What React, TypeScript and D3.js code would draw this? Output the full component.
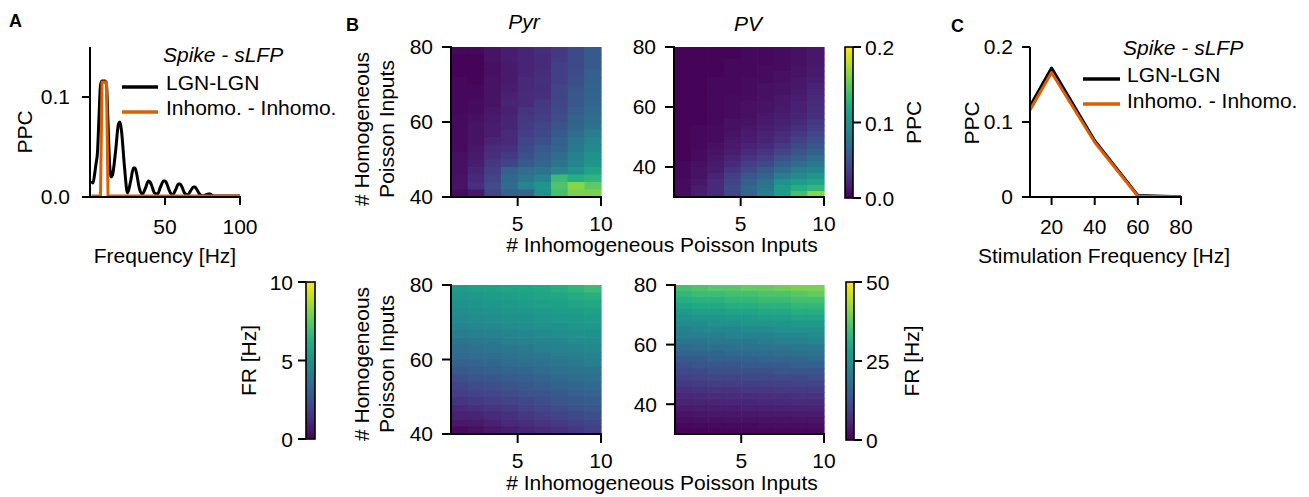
import React from "react";
import * as d3 from "d3";

const FONT = "'Liberation Sans', Arial, Helvetica, sans-serif";
const FS = 21;

// ---------- Panel A: PPC spectrum ----------
const freqA = [1, 2, 3, 4, 5, 6, 7, 8, 9, 10, 11, 12, 13, 14, 15, 17, 19, 20, 21, 23, 25, 27, 29, 30, 31, 33, 35, 37, 39, 40, 41, 43, 45, 47, 49, 50, 51, 53, 55, 57, 59, 60, 61, 63, 65, 67, 69, 70, 71, 73, 75, 77, 79, 80, 81, 83, 85, 90, 95, 100];
const ppcLgnA = [0.016, 0.014, 0.022, 0.033, 0.045, 0.08, 0.112, 0.116, 0.116, 0.116, 0.112, 0.075, 0.035, 0.02, 0.022, 0.045, 0.073, 0.075, 0.066, 0.03, 0.004, 0.015, 0.029, 0.029, 0.024, 0.008, 0.003, 0.009, 0.016, 0.015, 0.012, 0.004, 0.003, 0.01, 0.016, 0.016, 0.014, 0.006, 0.002, 0.007, 0.013, 0.013, 0.011, 0.004, 0.002, 0.006, 0.01, 0.01, 0.008, 0.003, 0.001, 0.002, 0.003, 0.003, 0.002, 0.001, 0.001, 0.001, 0.001, 0.001];
const freqInhomoA = [1, 7, 8, 11, 12, 100];
const ppcInhomoA = [0.001, 0.001, 0.115, 0.115, 0.001, 0.001];
const ticksAx = [50, 100];
const ticksAy = [0, 0.1];

// ---------- Panel C ----------
const stimFreq = [10, 20, 40, 60, 80];
const ppcLgnC = [0.121, 0.172, 0.075, 0.002, 0.0005];
const ppcInhomoC = [0.116, 0.166, 0.073, 0.001, 0.0005];
const ticksCx = [20, 40, 60, 80];
const ticksCy = [0, 0.1, 0.2];

// ---------- Panel B heatmaps ----------
const xEdges = [1, 2, 3, 4, 5, 6, 7, 8, 9, 10];
const yEdgesPyr = [40, 42, 44, 46, 48, 50, 52, 54, 56, 58, 60, 62, 64, 66, 68, 70, 72, 74, 76, 78, 80];
const yEdgesPV = [30, 32, 34, 36, 38, 40, 42, 44, 46, 48, 50, 52, 54, 56, 58, 60, 62, 64, 66, 68, 70, 72, 74, 76, 78, 80];

// PPC Pyr, rows top (y=80) -> bottom (y=40)
const ppcPyr = [
  [0.004, 0.004, 0.010, 0.016, 0.020, 0.026, 0.032, 0.044, 0.056],
  [0.002, 0.002, 0.010, 0.016, 0.020, 0.024, 0.034, 0.044, 0.056],
  [0.002, 0.002, 0.008, 0.014, 0.020, 0.024, 0.036, 0.044, 0.056],
  [0.002, 0.002, 0.008, 0.014, 0.020, 0.026, 0.036, 0.046, 0.060],
  [0.004, 0.002, 0.010, 0.014, 0.022, 0.028, 0.036, 0.048, 0.060],
  [0.004, 0.004, 0.010, 0.016, 0.022, 0.026, 0.040, 0.050, 0.062],
  [0.004, 0.004, 0.010, 0.018, 0.024, 0.028, 0.040, 0.054, 0.064],
  [0.004, 0.006, 0.010, 0.020, 0.024, 0.032, 0.042, 0.054, 0.066],
  [0.004, 0.006, 0.012, 0.018, 0.030, 0.034, 0.044, 0.058, 0.068],
  [0.006, 0.008, 0.014, 0.020, 0.032, 0.036, 0.046, 0.062, 0.070],
  [0.006, 0.010, 0.016, 0.020, 0.034, 0.040, 0.050, 0.064, 0.074],
  [0.006, 0.010, 0.016, 0.024, 0.036, 0.044, 0.056, 0.070, 0.084],
  [0.006, 0.010, 0.020, 0.024, 0.040, 0.048, 0.060, 0.076, 0.090],
  [0.006, 0.012, 0.024, 0.028, 0.044, 0.056, 0.064, 0.080, 0.094],
  [0.008, 0.014, 0.028, 0.034, 0.048, 0.060, 0.070, 0.086, 0.100],
  [0.008, 0.016, 0.032, 0.040, 0.056, 0.066, 0.076, 0.090, 0.104],
  [0.008, 0.020, 0.036, 0.060, 0.070, 0.076, 0.090, 0.100, 0.116],
  [0.010, 0.024, 0.040, 0.066, 0.080, 0.090, 0.136, 0.124, 0.130],
  [0.010, 0.028, 0.046, 0.068, 0.090, 0.104, 0.144, 0.164, 0.150],
  [0.006, 0.012, 0.040, 0.060, 0.064, 0.100, 0.140, 0.160, 0.160],
];

// PPC PV, rows top (y=80) -> bottom (y=30)
const ppcPV = [
  [0.002, 0.002, 0.002, 0.002, 0.004, 0.004, 0.006, 0.008, 0.012],
  [0.002, 0.002, 0.002, 0.002, 0.004, 0.004, 0.006, 0.008, 0.012],
  [0.002, 0.002, 0.002, 0.004, 0.004, 0.004, 0.006, 0.008, 0.012],
  [0.002, 0.002, 0.002, 0.004, 0.004, 0.006, 0.006, 0.010, 0.014],
  [0.002, 0.002, 0.002, 0.004, 0.004, 0.006, 0.008, 0.010, 0.014],
  [0.002, 0.002, 0.004, 0.004, 0.006, 0.006, 0.008, 0.012, 0.016],
  [0.002, 0.002, 0.004, 0.004, 0.006, 0.008, 0.010, 0.012, 0.018],
  [0.002, 0.002, 0.004, 0.004, 0.006, 0.008, 0.010, 0.014, 0.020],
  [0.002, 0.002, 0.004, 0.006, 0.006, 0.008, 0.012, 0.016, 0.022],
  [0.002, 0.002, 0.004, 0.006, 0.008, 0.010, 0.012, 0.018, 0.024],
  [0.002, 0.002, 0.004, 0.006, 0.008, 0.010, 0.014, 0.018, 0.026],
  [0.002, 0.002, 0.004, 0.006, 0.008, 0.012, 0.016, 0.020, 0.028],
  [0.002, 0.002, 0.004, 0.008, 0.010, 0.014, 0.018, 0.024, 0.032],
  [0.002, 0.004, 0.006, 0.008, 0.012, 0.016, 0.020, 0.028, 0.036],
  [0.002, 0.004, 0.006, 0.010, 0.014, 0.018, 0.024, 0.032, 0.042],
  [0.002, 0.004, 0.006, 0.012, 0.016, 0.020, 0.028, 0.038, 0.048],
  [0.002, 0.004, 0.008, 0.014, 0.020, 0.024, 0.034, 0.044, 0.054],
  [0.002, 0.006, 0.010, 0.016, 0.024, 0.030, 0.040, 0.050, 0.060],
  [0.002, 0.006, 0.012, 0.020, 0.030, 0.036, 0.050, 0.060, 0.070],
  [0.004, 0.008, 0.014, 0.024, 0.036, 0.044, 0.060, 0.070, 0.080],
  [0.004, 0.010, 0.016, 0.030, 0.044, 0.056, 0.070, 0.084, 0.090],
  [0.004, 0.010, 0.020, 0.036, 0.054, 0.064, 0.084, 0.096, 0.104],
  [0.006, 0.012, 0.024, 0.040, 0.060, 0.076, 0.100, 0.110, 0.116],
  [0.006, 0.016, 0.024, 0.044, 0.066, 0.080, 0.110, 0.124, 0.132],
  [0.006, 0.016, 0.024, 0.040, 0.064, 0.084, 0.110, 0.140, 0.164],
];

// FR Pyr [Hz], rows top (y=80) -> bottom (y=40)
const frPyr = [
  [5.5, 5.6, 5.7, 5.8, 5.9, 6.0, 6.2, 6.5, 6.8],
  [5.3, 5.4, 5.5, 5.6, 5.7, 5.8, 5.9, 6.1, 6.3],
  [5.1, 5.2, 5.3, 5.4, 5.5, 5.6, 5.7, 5.8, 6.0],
  [4.9, 5.0, 5.1, 5.2, 5.3, 5.4, 5.5, 5.6, 5.7],
  [4.7, 4.8, 4.9, 5.0, 5.1, 5.2, 5.3, 5.4, 5.5],
  [4.5, 4.6, 4.7, 4.8, 4.9, 5.0, 5.1, 5.2, 5.3],
  [4.2, 4.3, 4.4, 4.5, 4.6, 4.8, 4.9, 5.0, 5.1],
  [3.9, 4.0, 4.1, 4.3, 4.4, 4.5, 4.6, 4.8, 4.9],
  [3.6, 3.7, 3.9, 4.0, 4.1, 4.3, 4.4, 4.5, 4.7],
  [3.4, 3.5, 3.6, 3.7, 3.9, 4.0, 4.2, 4.3, 4.4],
  [3.1, 3.2, 3.3, 3.5, 3.6, 3.7, 3.9, 4.0, 4.2],
  [2.8, 2.9, 3.0, 3.2, 3.3, 3.5, 3.6, 3.8, 3.9],
  [2.4, 2.6, 2.7, 2.9, 3.0, 3.2, 3.4, 3.5, 3.7],
  [2.1, 2.3, 2.4, 2.6, 2.7, 2.9, 3.1, 3.3, 3.4],
  [1.8, 2.0, 2.1, 2.3, 2.5, 2.6, 2.8, 3.0, 3.2],
  [1.5, 1.7, 1.8, 2.0, 2.2, 2.4, 2.6, 2.8, 2.9],
  [1.2, 1.4, 1.5, 1.7, 1.9, 2.1, 2.3, 2.5, 2.7],
  [0.9, 1.0, 1.2, 1.4, 1.6, 1.8, 2.0, 2.2, 2.4],
  [0.6, 0.7, 0.9, 1.1, 1.3, 1.5, 1.7, 1.9, 2.1],
  [0.3, 0.4, 0.6, 0.8, 1.0, 1.2, 1.4, 1.6, 1.8],
];

// FR PV [Hz], rows top (y=80) -> bottom (y=30)
const frPV = [
  [35, 36, 37, 37, 38, 38, 39, 40, 40],
  [33, 34, 34, 35, 35, 36, 36, 37, 38],
  [31, 32, 32, 33, 33, 34, 34, 35, 35],
  [29, 30, 30, 31, 31, 32, 32, 33, 33],
  [27, 28, 28, 29, 29, 30, 30, 31, 31],
  [25, 26, 26, 27, 27, 28, 28, 29, 29],
  [24, 24, 25, 25, 26, 26, 26, 27, 27],
  [22, 23, 23, 23, 24, 24, 25, 25, 25],
  [21, 21, 21, 22, 22, 22, 23, 23, 24],
  [19, 19, 20, 20, 20, 21, 21, 21, 22],
  [17, 18, 18, 18, 19, 19, 19, 20, 20],
  [16, 16, 16, 17, 17, 17, 18, 18, 18],
  [14, 14, 15, 15, 15, 16, 16, 16, 17],
  [12, 13, 13, 13, 14, 14, 14, 15, 15],
  [11, 11, 12, 12, 12, 12, 13, 13, 13],
  [9.5, 10, 10, 10, 11, 11, 11, 11, 12],
  [8.3, 8.6, 8.8, 9.0, 9.3, 9.5, 9.7, 10, 10],
  [7.0, 7.3, 7.5, 7.7, 7.9, 8.1, 8.3, 8.5, 8.7],
  [5.8, 6.0, 6.2, 6.4, 6.6, 6.8, 7.0, 7.2, 7.4],
  [4.7, 4.9, 5.0, 5.2, 5.4, 5.6, 5.7, 5.9, 6.0],
  [3.7, 3.8, 4.0, 4.1, 4.3, 4.4, 4.6, 4.7, 4.9],
  [2.7, 2.9, 3.0, 3.1, 3.3, 3.4, 3.5, 3.6, 3.8],
  [1.9, 2.0, 2.1, 2.2, 2.3, 2.4, 2.5, 2.6, 2.7],
  [1.1, 1.2, 1.3, 1.4, 1.5, 1.6, 1.6, 1.7, 1.8],
  [0.5, 0.6, 0.6, 0.7, 0.8, 0.8, 0.9, 1.0, 1.0],
];

const hmXTicks = [5, 10];
const pyrYTicks = [40, 60, 80];
const pvYTicks = [40, 60, 80];
const ppcCbTicks = [0, 0.1, 0.2];
const frPyrCbTicks = [0, 5, 10];
const frPVCbTicks = [0, 25, 50];

const ORANGE = "#d95f02";

type HMProps = {
  left: number; top: number; w: number; h: number;
  yEdges: number[]; values: number[][]; vmax: number; yTicks: number[];
};

function Heatmap({ left, top, w, h, yEdges, values, vmax, yTicks }: HMProps) {
  const x = d3.scaleLinear().domain([xEdges[0], xEdges[xEdges.length - 1]]).range([left, left + w]);
  const y = d3.scaleLinear().domain([yEdges[0], yEdges[yEdges.length - 1]]).range([top + h, top]);
  const color = d3.scaleSequential(d3.interpolateViridis).domain([0, vmax]);
  const n = yEdges.length;
  const cells: JSX.Element[] = [];
  values.forEach((row, i) => {
    const yTop = yEdges[n - 1 - i];
    const yBot = yEdges[n - 2 - i];
    row.forEach((v, j) => {
      const x0 = x(xEdges[j]);
      const x1 = x(xEdges[j + 1]);
      cells.push(
        <rect key={`${i}-${j}`} x={x0} y={y(yTop)} width={x1 - x0 + 0.6} height={y(yBot) - y(yTop) + 0.6} fill={color(v)} />
      );
    });
  });
  return (
    <g>
      {cells}
      <line x1={left} x2={left} y1={top - 1} y2={top + h + 1} stroke="#000" strokeWidth={2} />
      <line x1={left - 1} x2={left + w + 1} y1={top + h} y2={top + h} stroke="#000" strokeWidth={2} />
      {yTicks.map((t) => (
        <g key={"y" + t}>
          <line x1={left - 9} x2={left} y1={y(t)} y2={y(t)} stroke="#000" strokeWidth={2} />
          <text x={left - 18} y={y(t)} dy="0.35em" textAnchor="end" fontSize={FS}>{t}</text>
        </g>
      ))}
      {hmXTicks.map((t) => (
        <g key={"x" + t}>
          <line x1={x(t)} x2={x(t)} y1={top + h} y2={top + h + 9} stroke="#000" strokeWidth={2} />
          <text x={x(t)} y={top + h + 34} textAnchor="middle" fontSize={FS}>{t}</text>
        </g>
      ))}
    </g>
  );
}

type CBProps = {
  left: number; top: number; w: number; h: number; vmax: number; ticks: number[];
  side: "left" | "right"; label: string; labelX: number; id: string; fmt: (v: number) => string;
};

function Colorbar({ left, top, w, h, vmax, ticks, side, label, labelX, id, fmt }: CBProps) {
  const y = d3.scaleLinear().domain([0, vmax]).range([top + h, top]);
  const stops = d3.range(0, 1.0001, 0.05);
  return (
    <g>
      <defs>
        <linearGradient id={id} x1="0" y1="1" x2="0" y2="0">
          {stops.map((s) => (
            <stop key={s} offset={s} stopColor={d3.interpolateViridis(s)} />
          ))}
        </linearGradient>
      </defs>
      <rect x={left} y={top} width={w} height={h} fill={`url(#${id})`} stroke="#000" strokeWidth={1.6} />
      {ticks.map((t) => (
        <g key={t}>
          {side === "right" ? (
            <>
              <line x1={left + w} x2={left + w + 8} y1={y(t)} y2={y(t)} stroke="#000" strokeWidth={2} />
              <text x={left + w + 12} y={y(t)} dy="0.4em" fontSize={FS}>{fmt(t)}</text>
            </>
          ) : (
            <>
              <line x1={left - 8} x2={left} y1={y(t)} y2={y(t)} stroke="#000" strokeWidth={2} />
              <text x={left - 13} y={y(t)} dy="0.4em" textAnchor="end" fontSize={FS}>{fmt(t)}</text>
            </>
          )}
        </g>
      ))}
      <text transform={`translate(${labelX},${top + h / 2}) rotate(-90)`} textAnchor="middle" dy="0.35em" fontSize={FS}>{label}</text>
    </g>
  );
}

function YLabel2({ x, y }: { x: number; y: number }) {
  return (
    <text transform={`translate(${x},${y}) rotate(-90)`} textAnchor="middle" fontSize={FS}>
      <tspan x={0} dy="0">{"# Homogeneous"}</tspan>
      <tspan x={0} dy="1.2em">{"Poisson Inputs"}</tspan>
    </text>
  );
}

export default function App() {
  // Panel A scales
  const xA = d3.scaleLinear().domain([0, 100]).range([90, 240]);
  const yA = d3.scaleLinear().domain([0, 0.15]).range([197, 47]);
  const lineA = d3.line<[number, number]>().x((d) => xA(d[0])).y((d) => yA(d[1])).curve(d3.curveMonotoneX);
  const lineALin = d3.line<[number, number]>().x((d) => xA(d[0])).y((d) => yA(d[1]));
  const lgnA = freqA.map((f, i) => [f, ppcLgnA[i]] as [number, number]);
  const inhA = freqInhomoA.map((f, i) => [f, ppcInhomoA[i]] as [number, number]);

  // Panel C scales
  const xC = d3.scaleLinear().domain([10, 80]).range([1030, 1181]);
  const yC = d3.scaleLinear().domain([0, 0.2]).range([197, 47]);
  const lineC = d3.line<[number, number]>().x((d) => xC(d[0])).y((d) => yC(d[1]));
  const lgnC = stimFreq.map((f, i) => [f, ppcLgnC[i]] as [number, number]);
  const inhC = stimFreq.map((f, i) => [f, ppcInhomoC[i]] as [number, number]);

  const fmt1 = (v: number) => d3.format(".1f")(v);
  const fmt0 = (v: number) => String(v);

  return (
    <svg width={1309} height={497} style={{ position: "absolute", left: 0, top: 0, background: "#fff" }} fontFamily={FONT}>
      <rect x={0} y={0} width={1309} height={497} fill="#fff" />

      {/* Panel labels */}
      <text x={9} y={27} fontSize={18} fontWeight="bold">A</text>
      <text x={346} y={31} fontSize={18} fontWeight="bold">B</text>
      <text x={951} y={32} fontSize={18} fontWeight="bold">C</text>

      {/* ===== Panel A ===== */}
      <path d={lineA(lgnA) || ""} fill="none" stroke="#000" strokeWidth={3} strokeLinejoin="round" />
      <path d={lineALin(inhA) || ""} fill="none" stroke={ORANGE} strokeWidth={3} strokeLinejoin="round" />
      <line x1={90} x2={90} y1={47} y2={198} stroke="#000" strokeWidth={2} />
      <line x1={89} x2={241} y1={197} y2={197} stroke="#000" strokeWidth={2} />
      {ticksAy.map((t) => (
        <g key={"ay" + t}>
          <line x1={82} x2={90} y1={yA(t)} y2={yA(t)} stroke="#000" strokeWidth={2} />
          <text x={70} y={yA(t)} dy="0.35em" textAnchor="end" fontSize={FS}>{fmt1(t)}</text>
        </g>
      ))}
      {ticksAx.map((t) => (
        <g key={"ax" + t}>
          <line x1={xA(t)} x2={xA(t)} y1={197} y2={205} stroke="#000" strokeWidth={2} />
          <text x={xA(t)} y={234} textAnchor="middle" fontSize={FS}>{t}</text>
        </g>
      ))}
      <text x={165} y={263} textAnchor="middle" fontSize={FS}>Frequency [Hz]</text>
      <text transform="translate(25,132) rotate(-90)" textAnchor="middle" dy="0.35em" fontSize={FS}>PPC</text>
      {/* Legend A */}
      <text x={163} y={62} fontSize={FS} fontStyle="italic">Spike - sLFP</text>
      <line x1={122} x2={158} y1={87} y2={87} stroke="#000" strokeWidth={3.5} />
      <text x={166} y={90} fontSize={FS}>LGN-LGN</text>
      <line x1={122} x2={158} y1={112} y2={112} stroke={ORANGE} strokeWidth={3.5} />
      <text x={166} y={115} fontSize={FS}>Inhomo. - Inhomo.</text>

      {/* ===== Panel B ===== */}
      <text x={524} y={29} textAnchor="middle" fontSize={FS} fontStyle="italic">Pyr</text>
      <text x={748} y={31} textAnchor="middle" fontSize={FS} fontStyle="italic">PV</text>

      <Heatmap left={451} top={47} w={150} h={150} yEdges={yEdgesPyr} values={ppcPyr} vmax={0.2} yTicks={pyrYTicks} />
      <Heatmap left={674} top={47} w={150} h={150} yEdges={yEdgesPV} values={ppcPV} vmax={0.2} yTicks={pvYTicks} />
      <Colorbar left={845} top={47} w={8} h={151} vmax={0.2} ticks={ppcCbTicks} side="right" label="PPC" labelX={914} id="cbppc" fmt={fmt1} />
      <YLabel2 x={369} y={129} />
      <text x={662} y={252} textAnchor="middle" fontSize={FS}># Inhomogeneous Poisson Inputs</text>

      <Heatmap left={451} top={285} w={150} h={149} yEdges={yEdgesPyr} values={frPyr} vmax={10} yTicks={pyrYTicks} />
      <Heatmap left={675} top={285} w={149} h={149} yEdges={yEdgesPV} values={frPV} vmax={50} yTicks={pvYTicks} />
      <Colorbar left={306} top={282} w={9} h={157} vmax={10} ticks={frPyrCbTicks} side="left" label="FR [Hz]" labelX={249} id="cbfrpyr" fmt={fmt0} />
      <Colorbar left={846} top={282} w={8} h={158} vmax={50} ticks={frPVCbTicks} side="right" label="FR [Hz]" labelX={912} id="cbfrpv" fmt={fmt0} />
      <YLabel2 x={369} y={364} />
      <text x={662} y={490} textAnchor="middle" fontSize={FS}># Inhomogeneous Poisson Inputs</text>

      {/* ===== Panel C ===== */}
      <path d={lineC(lgnC) || ""} fill="none" stroke="#000" strokeWidth={3} strokeLinejoin="round" />
      <path d={lineC(inhC) || ""} fill="none" stroke={ORANGE} strokeWidth={3} strokeLinejoin="round" />
      <line x1={1030} x2={1030} y1={47} y2={198} stroke="#000" strokeWidth={2} />
      <line x1={1029} x2={1182} y1={197} y2={197} stroke="#000" strokeWidth={2} />
      {ticksCy.map((t) => (
        <g key={"cy" + t}>
          <line x1={1022} x2={1030} y1={yC(t)} y2={yC(t)} stroke="#000" strokeWidth={2} />
          <text x={1013} y={yC(t)} dy="0.35em" textAnchor="end" fontSize={FS}>{t === 0 ? "0" : fmt1(t)}</text>
        </g>
      ))}
      {ticksCx.map((t) => (
        <g key={"cx" + t}>
          <line x1={xC(t)} x2={xC(t)} y1={197} y2={205} stroke="#000" strokeWidth={2} />
          <text x={xC(t)} y={234} textAnchor="middle" fontSize={FS}>{t}</text>
        </g>
      ))}
      <text x={1104} y={263} textAnchor="middle" fontSize={FS}>Stimulation Frequency [Hz]</text>
      <text transform="translate(972,123) rotate(-90)" textAnchor="middle" dy="0.35em" fontSize={FS}>PPC</text>
      {/* Legend C */}
      <text x={1123} y={55} fontSize={FS} fontStyle="italic">Spike - sLFP</text>
      <line x1={1083} x2={1120} y1={79} y2={79} stroke="#000" strokeWidth={3.5} />
      <text x={1127} y={82} fontSize={FS}>LGN-LGN</text>
      <line x1={1083} x2={1120} y1={104} y2={104} stroke={ORANGE} strokeWidth={3.5} />
      <text x={1127} y={108} fontSize={FS}>Inhomo. - Inhomo.</text>
    </svg>
  );
}
